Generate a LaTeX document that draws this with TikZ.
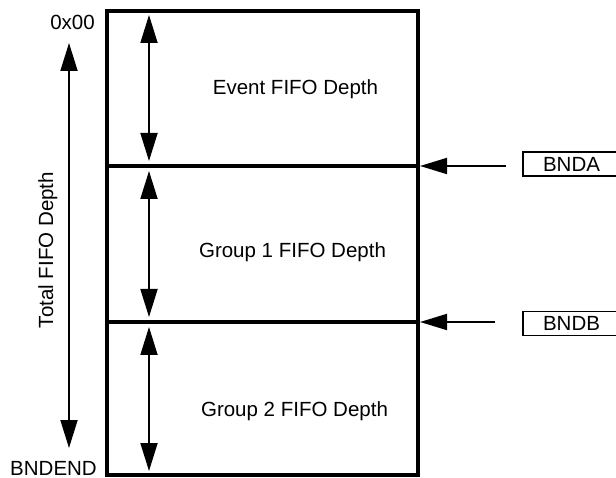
\documentclass[tikz,border=0pt]{standalone}
\usepackage{fontspec}
\setmainfont{Liberation Sans}
\usetikzlibrary{arrows.meta}
\begin{document}
\begin{tikzpicture}[x=1pt,y=-1pt,
  frame/.style={line width=4pt},
  dim/.style={line width=1.8pt,
    {Triangle[length=28pt,width=17pt]}-{Triangle[length=28pt,width=17pt]}},
  ptr/.style={line width=1.8pt,-{Triangle[length=27pt,width=16pt]}},
  lbl/.style={font=\fontsize{20.5}{24}\selectfont, inner sep=0pt},
  regbox/.style={lbl,draw,line width=1.5pt,minimum width=97pt,minimum height=24pt}]
  \clip (0,0) rectangle (616,478);

  % memory block outline and region boundaries
  \coordinate (tl) at (107,11);
  \coordinate (br) at (418,475);
  \coordinate (aL) at (107,166);
  \coordinate (aR) at (418,166);
  \coordinate (bL) at (107,322);
  \coordinate (bR) at (418,322);
  \draw[frame] (tl) rectangle (br);
  \draw[frame] (aL) -- (aR);
  \draw[frame] (bL) -- (bR);

  % region sizes
  \coordinate (e1) at (149,15);
  \coordinate (e2) at (149,161);
  \coordinate (g1) at (149,171);
  \coordinate (g2) at (149,317);
  \coordinate (h1) at (149,327);
  \coordinate (h2) at (149,471);
  \draw[dim] (e1) -- (e2);
  \draw[dim] (g1) -- (g2);
  \draw[dim] (h1) -- (h2);
  \node[lbl,anchor=base] (evt) at (295.5,95) {Event FIFO Depth};
  \node[lbl,anchor=base] (grp1) at (292.5,258) {Group 1 FIFO Depth};
  \node[lbl,anchor=base] (grp2) at (294.5,417) {Group 2 FIFO Depth};

  % total depth
  \coordinate (t1) at (69,43);
  \coordinate (t2) at (69,448);
  \draw[dim] (t1) -- (t2);
  \node[lbl,rotate=90,anchor=base] (total) at (53,250) {Total FIFO Depth};
  \node[lbl,anchor=base east] (start) at (95,30) {0x00};
  \node[lbl,anchor=base east] (end) at (97,475) {BNDEND};

  % boundary registers
  \node[regbox] (bnda) at (571.5,164) {BNDA};
  \node[regbox] (bndb) at (571.5,323.5) {BNDB};
  \coordinate (pa) at (506,166);
  \coordinate (pb) at (495,322);
  \coordinate (ta) at (420,166);
  \coordinate (tb) at (420,322);
  \draw[ptr] (pa) -- (ta);
  \draw[ptr] (pb) -- (tb);
\end{tikzpicture}
\end{document}
